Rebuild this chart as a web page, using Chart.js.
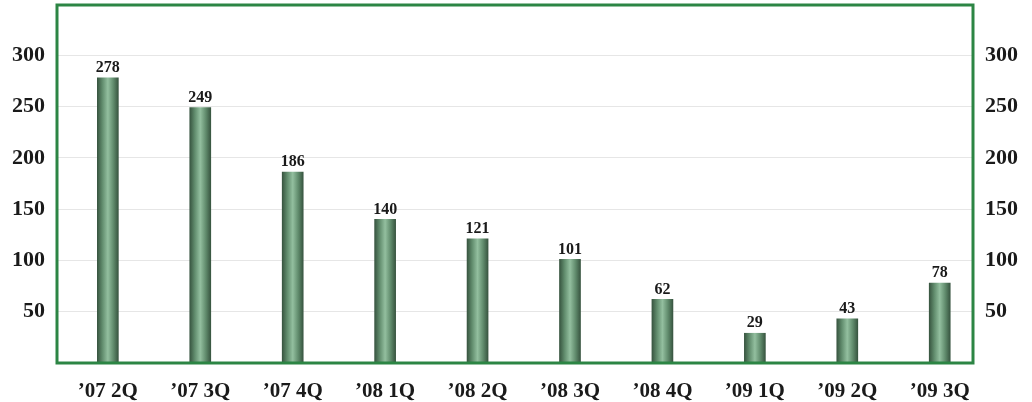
<!DOCTYPE html>
<html>
<head>
<meta charset="utf-8">
<script src="https://cdn.jsdelivr.net/npm/chart.js@4.4.0/dist/chart.umd.min.js"></script>
<style>
  html, body { margin: 0; padding: 0; background: #fff; }
  #wrap { width: 1032px; height: 402px; position: relative; }
</style>
</head>
<body>
<div id="wrap"><canvas id="quarterChart"></canvas></div>
<script>
/* =====================
   データ
===================== */
const quarters = ['’07 2Q', '’07 3Q', '’07 4Q', '’08 1Q', '’08 2Q', '’08 3Q', '’08 4Q', '’09 1Q', '’09 2Q', '’09 3Q'];
const counts   = [278, 249, 186, 140, 121, 101, 62, 29, 43, 78];
const yTicks   = [50, 100, 150, 200, 250, 300];

const FRAME_GREEN = '#2c8544';
const SERIF = '"Liberation Serif", "Times New Roman", serif';

/* =====================
   プラグイン: 枠線と数値ラベル
===================== */
const framePlugin = {
    id: 'frame',
    afterDraw: function(chart) {
        const a = chart.chartArea;
        const ctx = chart.ctx;
        ctx.save();
        ctx.strokeStyle = FRAME_GREEN;
        ctx.lineWidth = 3;
        ctx.strokeRect(a.left, a.top, a.right - a.left, a.bottom - a.top);
        ctx.restore();
    }
};

const valueLabelPlugin = {
    id: 'valueLabels',
    afterDatasetsDraw: function(chart) {
        const ctx = chart.ctx;
        const meta = chart.getDatasetMeta(0);
        ctx.save();
        ctx.fillStyle = '#1a1a1a';
        ctx.font = 'bold 16px ' + SERIF;
        ctx.textAlign = 'center';
        ctx.textBaseline = 'bottom';
        meta.data.forEach((bar, i) => {
            ctx.fillText(String(counts[i]), bar.x, bar.y - 2);
        });
        ctx.restore();
    }
};

// 円柱っぽい横方向グラデーション
function barGradient(context) {
    const chart = context.chart;
    const xs = chart.scales.x;
    if (!chart.chartArea || !xs) return '#5e8a6a';
    const cx = xs.getPixelForValue(context.dataIndex);
    const half = 11;
    const g = chart.ctx.createLinearGradient(cx - half, 0, cx + half, 0);
    g.addColorStop(0, '#34503c');
    g.addColorStop(0.25, '#618c6d');
    g.addColorStop(0.5, '#93bf9f');
    g.addColorStop(0.75, '#618c6d');
    g.addColorStop(1, '#34503c');
    return g;
}

// 軸ラベルによる余白を詰める
function noPad(axis) {
    axis.paddingTop = 0;
    axis.paddingBottom = 0;
    axis.paddingLeft = 0;
    axis.paddingRight = 0;
}

/* =====================
   チャート
===================== */
const yFont = { family: SERIF, size: 22, weight: 'bold' };
const xFont = { family: SERIF, size: 21, weight: 'bold' };

new Chart(document.getElementById('quarterChart'), {
    type: 'bar',
    data: {
        datasets: [{
            data: counts.map((v, i) => ({ x: i, y: v })),
            backgroundColor: barGradient,
            borderWidth: 0,
            barThickness: 21
        }]
    },
    plugins: [valueLabelPlugin, framePlugin],
    options: {
        responsive: true,
        maintainAspectRatio: false,
        animation: false,
        layout: { padding: { top: 5 } },
        plugins: { legend: { display: false }, tooltip: { enabled: false } },
        scales: {
            x: {
                type: 'linear',
                offset: false,
                min: -0.55,
                max: 9.36,
                afterBuildTicks: function(axis) {
                    axis.ticks = quarters.map((q, i) => ({ value: i }));
                },
                afterFit: function(axis) { axis.height = 39; noPad(axis); },
                grid: { display: false },
                border: { display: false },
                ticks: {
                    autoSkip: false,
                    maxRotation: 0,
                    padding: 8,
                    color: '#1a1a1a',
                    font: xFont,
                    callback: function(v) { return quarters[v] || ''; }
                }
            },
            y: {
                position: 'left',
                min: 0,
                max: 349,
                afterBuildTicks: function(axis) {
                    axis.ticks = yTicks.map(v => ({ value: v }));
                },
                afterFit: function(axis) { axis.width = 57; noPad(axis); },
                grid: { color: '#e6e6e6', lineWidth: 1, drawTicks: false },
                border: { display: false },
                ticks: { padding: 12, color: '#1a1a1a', font: yFont }
            },
            y2: {
                position: 'right',
                min: 0,
                max: 349,
                afterBuildTicks: function(axis) {
                    axis.ticks = yTicks.map(v => ({ value: v }));
                },
                afterFit: function(axis) { axis.width = 59; noPad(axis); },
                grid: { display: false, drawTicks: false },
                border: { display: false },
                ticks: { padding: 12, color: '#1a1a1a', font: yFont }
            }
        }
    }
});
</script>
</body>
</html>
